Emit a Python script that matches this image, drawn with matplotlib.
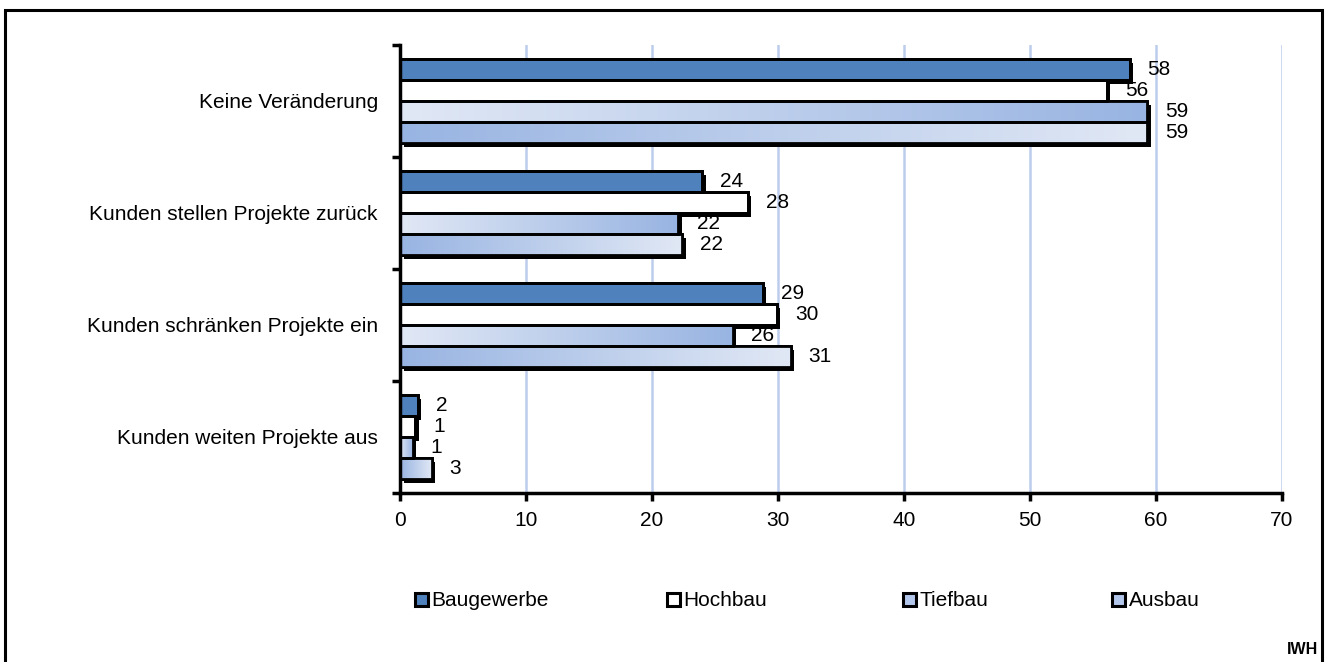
import numpy as np
import matplotlib
matplotlib.use('Agg')
import matplotlib.pyplot as plt
from matplotlib.patches import Patch, Rectangle
from matplotlib import patheffects as pe
from matplotlib.colors import LinearSegmentedColormap

plt.rcParams['font.family'] = ['Liberation Sans', 'DejaVu Sans']

# data
categories = ['Keine Veränderung', 'Kunden stellen Projekte zurück',
              'Kunden schränken Projekte ein', 'Kunden weiten Projekte aus']
series = ['Baugewerbe', 'Hochbau', 'Tiefbau', 'Ausbau']
baugewerbe = [57.9, 24.0, 28.8, 1.4]
hochbau = [56.1, 27.6, 29.9, 1.2]
tiefbau = [59.3, 22.1, 26.4, 1.0]
ausbau = [59.3, 22.4, 31.0, 2.5]
labels = [[58, 24, 29, 2], [56, 28, 30, 1], [59, 22, 26, 1], [59, 22, 31, 3]]
xticks = [0, 10, 20, 30, 40, 50, 60, 70]

values = [baugewerbe, hochbau, tiefbau, ausbau]

light = '#e1e8f5'
mid = '#98b4e2'
fills = ['#4f81bd', 'white', 'grad_lr', 'grad_rl']
FS = 15

fig = plt.figure(figsize=(13.27, 6.62), dpi=100)
ax = fig.add_axes([400/1327, 1 - 493/662, (1282 - 400)/1327, (493 - 45)/662])

y = np.arange(len(categories))
h = 0.1875
offsets = np.array([-1.5, -0.5, 0.5, 1.5]) * h

shadow = [pe.SimplePatchShadow(offset=(2.6, -2.6), shadow_rgbFace='black', alpha=1.0), pe.Normal()]

cmap_lr = LinearSegmentedColormap.from_list('lr', [light, mid])
cmap_rl = LinearSegmentedColormap.from_list('rl', [mid, light])
grad = np.linspace(0, 1, 256).reshape(1, -1)

for i, (name, vals) in enumerate(zip(series, values)):
    fill = fills[i]
    fc = fill if not fill.startswith('grad') else mid
    bars = ax.barh(y + offsets[i], vals, height=h, color=fc, edgecolor='black',
                   linewidth=2.0, zorder=3)
    for b in bars:
        b.set_path_effects(shadow)
        if fill.startswith('grad'):
            cm = cmap_lr if fill == 'grad_lr' else cmap_rl
            x0, y0 = b.get_x(), b.get_y()
            w, hh = b.get_width(), b.get_height()
            im = ax.imshow(grad, cmap=cm, aspect='auto', zorder=3.05,
                           extent=(x0, x0 + w, y0 + hh, y0), interpolation='bicubic')
            im.set_clip_path(b)
    # outline again on top of the gradient
    ax.barh(y + offsets[i], vals, height=h, color='none', edgecolor='black',
            linewidth=2.0, zorder=3.1)
    for b, lab in zip(bars, labels[i]):
        ax.annotate(str(lab), (b.get_width(), b.get_y() + b.get_height()/2),
                    xytext=(13, 0), textcoords='offset points', ha='left', va='center',
                    fontsize=FS, zorder=5)

ax.set_xlim(0, 70)
ax.set_ylim(len(categories) - 0.5, -0.5)
ax.set_xticks(xticks)
ax.set_xticklabels([str(t) for t in xticks], fontsize=FS)
ax.set_yticks(y)
ax.set_yticklabels(categories, fontsize=FS)
ax.set_yticks(np.arange(len(categories) + 1) - 0.5, minor=True)
ax.tick_params(axis='y', which='major', length=0, pad=16)
ax.tick_params(axis='y', which='minor', length=6, width=2.5, direction='out')
ax.tick_params(axis='x', which='major', length=6, width=2.5, direction='out', pad=7)

for t in xticks[1:]:
    ax.axvline(t, color='#bccdec', linewidth=1.8, zorder=1)

for s in ['top', 'right']:
    ax.spines[s].set_visible(False)
for s in ['left', 'bottom']:
    ax.spines[s].set_linewidth(2.5)
    ax.spines[s].set_zorder(4)

# legend entries placed one by one
leg_x = [415, 667, 903, 1112]
for f, name, lx in zip(fills, series, leg_x):
    fc = '#b3c7ec' if f.startswith('grad') else f
    hnd = Patch(facecolor=fc, edgecolor='black', linewidth=2.2)
    lg = fig.legend([hnd], [name], loc='center left', bbox_to_anchor=(lx/1327, 1 - 601/662),
                    frameon=False, fontsize=FS, handlelength=0.6, handleheight=0.6,
                    handletextpad=0.2, borderaxespad=0, borderpad=0)

fig.text(1318/1327, 1 - 650/662, 'IWH', ha='right', va='center', fontsize=11.5,
         fontweight='bold')

fig.patches.append(Rectangle((5/1327, -0.02), (1322 - 5)/1327, (662 - 10)/662 + 0.02,
                             transform=fig.transFigure, fill=False, edgecolor='black',
                             linewidth=2.2))

fig.savefig('out.png', dpi=100)
